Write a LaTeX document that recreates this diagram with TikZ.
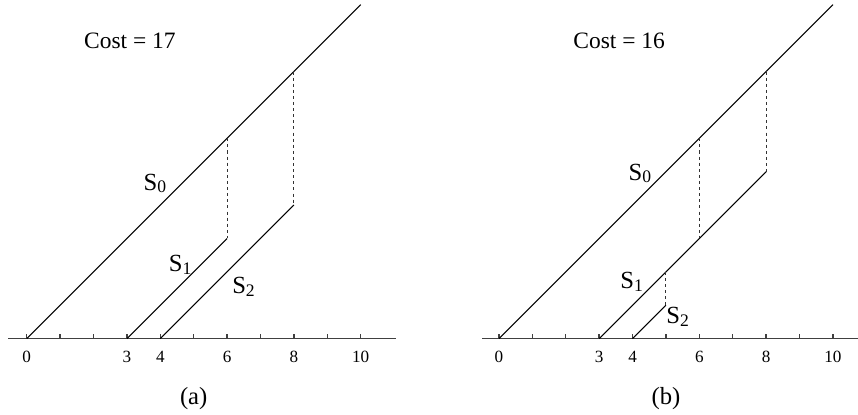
\documentclass[tikz,border=0pt]{standalone}
\usepackage{fontspec}
\setmainfont{Liberation Serif}
\usetikzlibrary{positioning}
\newcommand{\Sname}[1]{S\raisebox{-1.2pt}{\fontsize{7.5}{9}\selectfont #1}}

\begin{document}
\begin{tikzpicture}[x=0.5cm, y=0.5cm,
  seg/.style={line width=0.45pt},
  link/.style={line width=0.45pt, dash pattern=on 1.3pt off 1.3pt, black!80},
  axis/.style={line width=0.6pt, black!75},
  ticklbl/.style={font=\fontsize{7.3}{8}\selectfont, inner sep=0pt},
  slbl/.style={font=\fontsize{10.5}{12}\selectfont, inner sep=0pt, anchor=base west},
  costlbl/.style={font=\fontsize{10}{12}\selectfont, inner sep=0pt, anchor=base},
  caplbl/.style={font=\fontsize{10.5}{12}\selectfont, inner sep=0pt},
]
  \useasboundingbox (-0.8,-2.285) rectangle (24.89,10.14);

  % panel (a)
  \begin{scope}
    \coordinate (aL) at (-0.55,0);
    \coordinate (aR) at (11.05,0);
    \draw[axis] (aL) -- (aR);
    \foreach \i in {0,...,10} \draw[axis] (\i,0) -- (\i,0.13);
    \foreach \i in {0,3,4,6,8,10} \node[ticklbl] (a-t\i) at (\i,-0.55) {\i};
    % schedules
    \coordinate (a0s) at (0,0);  \coordinate (a0e) at (10,10);
    \coordinate (a1s) at (3,0);  \coordinate (a1e) at (6,3);
    \coordinate (a2s) at (4,0);  \coordinate (a2e) at (8,4);
    \coordinate (a0m) at (6,6);  \coordinate (a0n) at (8,8);
    \draw[seg] (a0s) -- (a0e);
    \draw[seg] (a1s) -- (a1e);
    \draw[seg] (a2s) -- (a2e);
    \draw[link] (a0m) -- (a1e);
    \draw[link] (a0n) -- (a2e);
    \node[slbl] (a-s0) at (3.49,4.45) {\Sname{0}};
    \node[slbl] (a-s1) at (4.24,2.0) {\Sname{1}};
    \node[slbl] (a-s2) at (6.14,1.36) {\Sname{2}};
    \node[costlbl] (a-cost) at (3.09,8.7) {Cost = 17};
    \node[caplbl] (a-cap) at (5,-1.8) {(a)};
  \end{scope}

  % panel (b)
  \begin{scope}[shift={(14.14,0)}]
    \coordinate (bL) at (-0.5,0);
    \coordinate (bR) at (11.05,0);
    \draw[axis] (bL) -- (bR);
    \foreach \i in {0,...,10} \draw[axis] (\i,0) -- (\i,0.13);
    \foreach \i in {0,3,4,6,8,10} \node[ticklbl] (b-t\i) at (\i,-0.55) {\i};
    % schedules
    \coordinate (b0s) at (0,0);  \coordinate (b0e) at (10,10);
    \coordinate (b1s) at (3,0);  \coordinate (b1e) at (8,5);
    \coordinate (b2s) at (4,0);  \coordinate (b2e) at (5,1);
    \coordinate (b0m) at (6,6);  \coordinate (b0n) at (8,8);
    \coordinate (b1m) at (6,3);  \coordinate (b1n) at (5,2);
    \draw[seg] (b0s) -- (b0e);
    \draw[seg] (b1s) -- (b1e);
    \draw[seg] (b2s) -- (b2e);
    \draw[link] (b0m) -- (b1m);
    \draw[link] (b0n) -- (b1e);
    \draw[link] (b1n) -- (b2e);
    \node[slbl] (b-s0) at (3.87,4.75) {\Sname{0}};
    \node[slbl] (b-s1) at (3.62,1.51) {\Sname{1}};
    \node[slbl] (b-s2) at (5.0,0.46) {\Sname{2}};
    \node[costlbl] (b-cost) at (3.6,8.7) {Cost = 16};
    \node[caplbl] (b-cap) at (5,-1.8) {(b)};
  \end{scope}
\end{tikzpicture}
\end{document}
